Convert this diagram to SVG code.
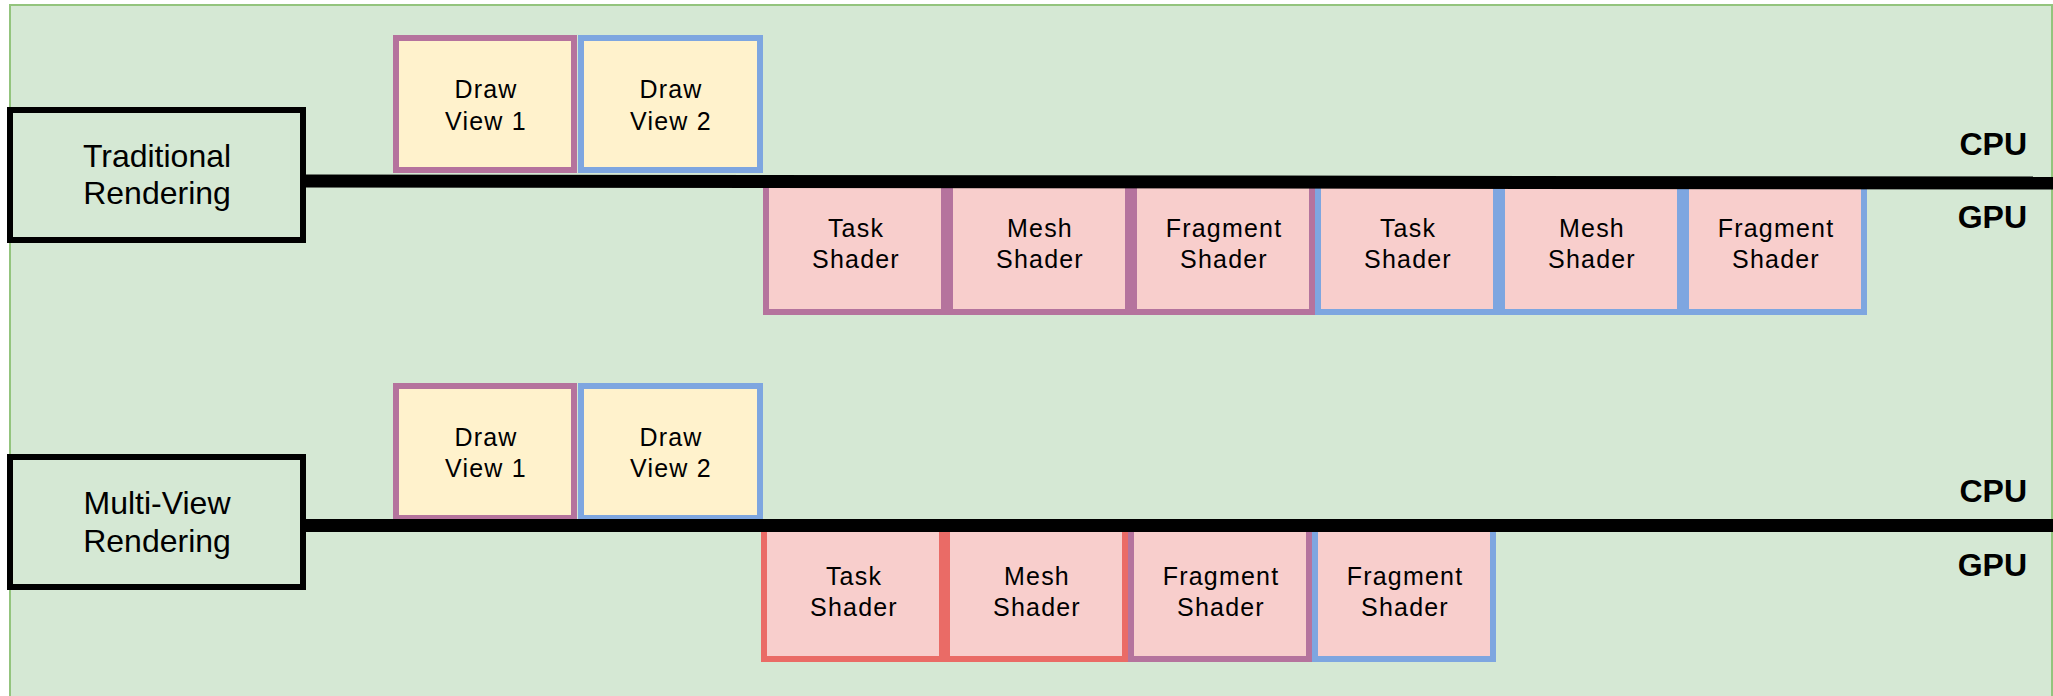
<svg xmlns="http://www.w3.org/2000/svg" width="2053" height="696" viewBox="0 0 2053 696">
<style>
.bg{fill:#d5e8d4;stroke:#93c47d;stroke-width:2}
.mode{fill:#d5e8d4;stroke:#000;stroke-width:6}
.draw{fill:#fff2cc;stroke-width:6}
.sh{fill:#f8cecc;stroke-width:6}
.pu{stroke:#b5739d}
.bl{stroke:#7ea6e0}
.rd{stroke:#ea6b66}
.t{font-family:"Liberation Sans",Arial,sans-serif;fill:#000;text-anchor:middle}
.lbl{font-size:25px;letter-spacing:1.2px}
.big{font-size:32px}
.pc{font-family:"Liberation Sans",Arial,sans-serif;font-size:32px;font-weight:bold;fill:#000;text-anchor:end}
.line{stroke:#000;stroke-width:13;fill:none}
</style>
<rect class="bg" x="10" y="5" width="2042" height="720"/>

<g id="traditional">
<rect class="mode" x="10" y="110" width="293" height="130"/>
<text class="t big" x="157" y="167">Traditional</text>
<text class="t big" x="157" y="204">Rendering</text>
</g>
<g id="t-draw1"><rect class="draw pu" x="396" y="38" width="178" height="132"/><text class="t lbl" x="486" y="98">Draw</text><text class="t lbl" x="486" y="130">View 1</text></g>
<g id="t-draw2"><rect class="draw bl" x="581" y="38" width="179" height="132"/><text class="t lbl" x="671" y="98">Draw</text><text class="t lbl" x="671" y="130">View 2</text></g>
<g id="t-task1"><rect class="sh pu" x="766" y="180" width="178" height="132"/><text class="t lbl" x="856" y="237">Task</text><text class="t lbl" x="856" y="268">Shader</text></g>
<g id="t-mesh1"><rect class="sh pu" x="950" y="180" width="178" height="132"/><text class="t lbl" x="1040" y="237">Mesh</text><text class="t lbl" x="1040" y="268">Shader</text></g>
<g id="t-frag1"><rect class="sh pu" x="1134" y="180" width="178" height="132"/><text class="t lbl" x="1224" y="237">Fragment</text><text class="t lbl" x="1224" y="268">Shader</text></g>
<g id="t-task2"><rect class="sh bl" x="1318" y="180" width="178" height="132"/><text class="t lbl" x="1408" y="237">Task</text><text class="t lbl" x="1408" y="268">Shader</text></g>
<g id="t-mesh2"><rect class="sh bl" x="1502" y="180" width="178" height="132"/><text class="t lbl" x="1592" y="237">Mesh</text><text class="t lbl" x="1592" y="268">Shader</text></g>
<g id="t-frag2"><rect class="sh bl" x="1686" y="180" width="178" height="132"/><text class="t lbl" x="1776" y="237">Fragment</text><text class="t lbl" x="1776" y="268">Shader</text></g>

<g id="multiview">
<rect class="mode" x="10" y="457" width="293" height="130"/>
<text class="t big" x="157" y="514">Multi-View</text>
<text class="t big" x="157" y="552">Rendering</text>
</g>
<g id="m-draw1"><rect class="draw pu" x="396" y="386" width="178" height="132"/><text class="t lbl" x="486" y="446">Draw</text><text class="t lbl" x="486" y="477">View 1</text></g>
<g id="m-draw2"><rect class="draw bl" x="581" y="386" width="179" height="132"/><text class="t lbl" x="671" y="446">Draw</text><text class="t lbl" x="671" y="477">View 2</text></g>
<g id="m-task"><rect class="sh rd" x="764" y="527" width="178" height="132"/><text class="t lbl" x="854" y="585">Task</text><text class="t lbl" x="854" y="616">Shader</text></g>
<g id="m-mesh"><rect class="sh rd" x="947" y="527" width="178" height="132"/><text class="t lbl" x="1037" y="585">Mesh</text><text class="t lbl" x="1037" y="616">Shader</text></g>
<g id="m-frag1"><rect class="sh pu" x="1131" y="527" width="178" height="132"/><text class="t lbl" x="1221" y="585">Fragment</text><text class="t lbl" x="1221" y="616">Shader</text></g>
<g id="m-frag2"><rect class="sh bl" x="1315" y="527" width="178" height="132"/><text class="t lbl" x="1405" y="585">Fragment</text><text class="t lbl" x="1405" y="616">Shader</text></g>

<g id="connectors">
<path class="line" d="M306 181 L2053 183"/>
<path class="line" d="M306 525.5 L2053 525.5"/>
</g>

<g id="labels">
<text class="pc" x="2027" y="155">CPU</text>
<text class="pc" x="2027" y="228">GPU</text>
<text class="pc" x="2027" y="502">CPU</text>
<text class="pc" x="2027" y="576">GPU</text>
</g>
</svg>
